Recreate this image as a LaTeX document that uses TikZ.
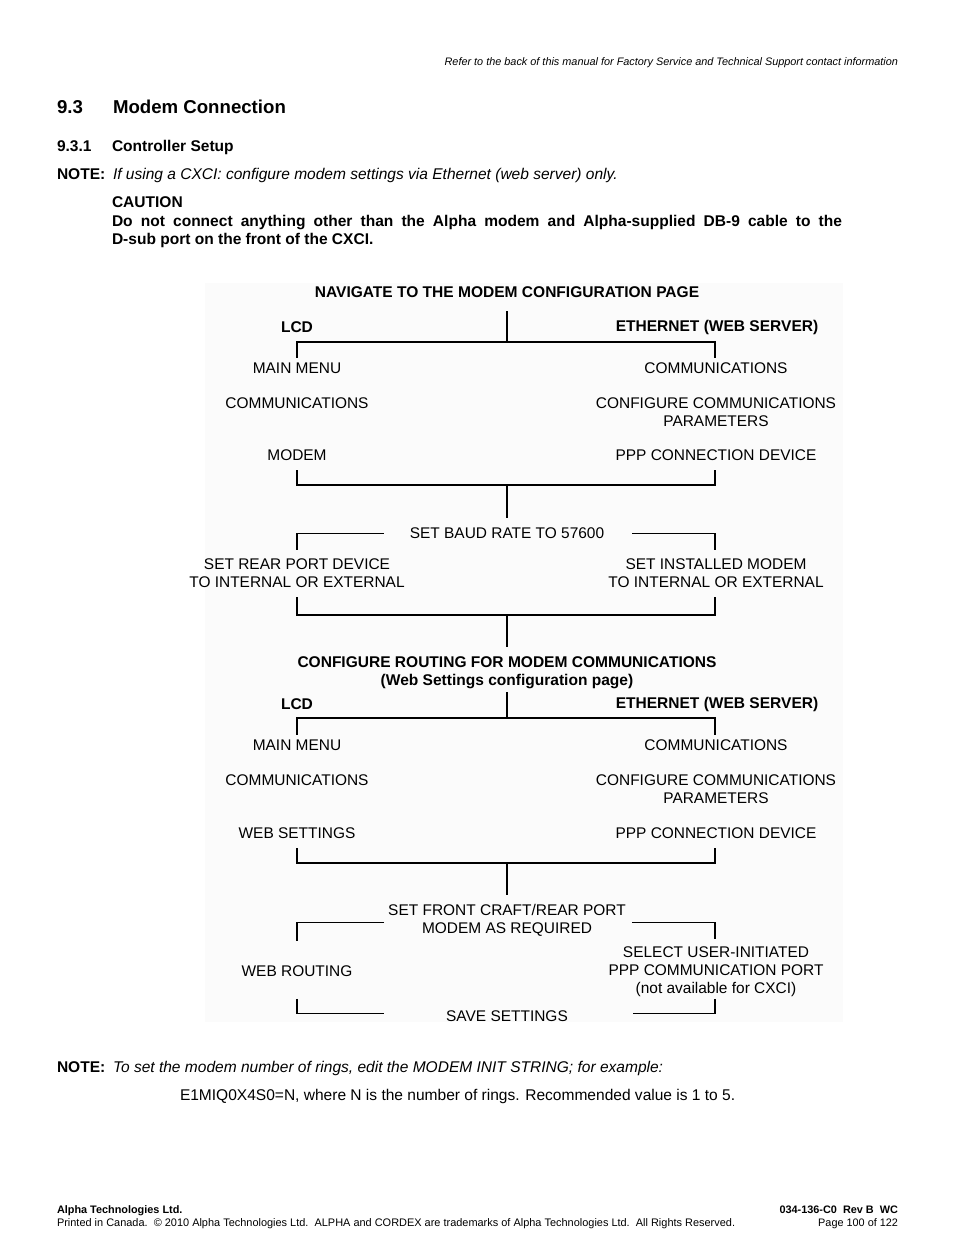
\documentclass[tikz,border=0pt]{standalone}
\usepackage{fontspec}
\setmainfont{Liberation Sans}
\usetikzlibrary{calc}

\definecolor{panelgray}{gray}{0.984}

\tikzset{
  every node/.style={inner sep=0pt, outer sep=0pt},
  bodyline/.style={anchor=base west, font=\fontsize{10}{12}\selectfont},
  boldline/.style={anchor=base west, font=\bfseries\fontsize{10}{12}\selectfont},
  flowtitle/.style={font=\bfseries\fontsize{10}{11.5}\selectfont, align=center},
  stepbox/.style={font=\fontsize{9.95}{11.5}\selectfont, align=center},
  trunk/.style={line width=1.6pt},
  branch/.style={line width=0.9pt},
}

\begin{document}
\begin{tikzpicture}[x=0.64151bp, y=-0.64151bp]
\useasboundingbox (0,0) rectangle (954,1235);

% page head
\node[anchor=base east, font=\itshape\fontsize{7}{8}\selectfont] (refer) at (898,65.8)
  {Refer to the back of this manual for Factory Service and Technical Support contact information};
\node[boldline, font=\bfseries\fontsize{12}{14}\selectfont] (secnum) at (57,113.7) {9.3};
\node[boldline, font=\bfseries\fontsize{12}{14}\selectfont] (sectitle) at (113,113.7) {Modem Connection};
\node[boldline] (subnum) at (57,151.6) {9.3.1};
\node[boldline] (subtitle) at (112,151.6) {Controller Setup};
\node[boldline] (note1) at (57,179.6) {NOTE:};
\node[bodyline, font=\itshape\fontsize{10}{12}\selectfont] (note1text) at (113,179.6)
  {If using a CXCI: configure modem settings via Ethernet (web server) only.};
\node[boldline] (caution) at (112,207.6) {CAUTION};
\node[boldline] (cautionA) at (112,226.6)
  {\makebox[468.3bp][s]{Do not connect anything other than the Alpha modem and Alpha-supplied DB-9 cable to the}};
\node[boldline] (cautionB) at (112,244.6) {D-sub port on the front of the CXCI.};

% flow chart panel
\fill[panelgray] (205,283) rectangle (843,1022);

% --- navigate block
\node[flowtitle] (navigate) at (507,292.5) {NAVIGATE TO THE MODEM CONFIGURATION PAGE};
\node[flowtitle] (lcdA) at (297,327.5) {LCD};
\node[flowtitle] (ethA) at (717,327.5) {ETHERNET (WEB SERVER)};
\node[stepbox] (mainmenuA) at (297,368.5) {MAIN MENU};
\node[stepbox] (commsA) at (297,403.5) {COMMUNICATIONS};
\node[stepbox] (modem) at (297,455.5) {MODEM};
\node[stepbox] (webcommsA) at (716,368.5) {COMMUNICATIONS};
\node[stepbox] (configA) at (716,412) {CONFIGURE COMMUNICATIONS\\PARAMETERS};
\node[stepbox] (pppA) at (716,455.5) {PPP CONNECTION DEVICE};
\node[stepbox] (baud) at (507,533.5) {SET BAUD RATE TO 57600};
\node[stepbox] (rearport) at (297,573.5) {SET REAR PORT DEVICE\\TO INTERNAL OR EXTERNAL};
\node[stepbox] (instmodem) at (716,573.5) {SET INSTALLED MODEM\\TO INTERNAL OR EXTERNAL};

\coordinate (stemA) at (507,311);
\coordinate (splitA) at (507,342);
\coordinate (joinA) at (507,485);
\coordinate (joinB) at (507,615);

\draw[trunk] (stemA) -- (splitA);
\draw[branch] ($(mainmenuA.north)+(0,-5.5)$) |- (splitA) -| ($(webcommsA.north)+(-1,-5.5)$);
\draw[branch] ($(modem.south)+(0,9.5)$) |- (joinA) -| ($(pppA.south)+(-1,9.5)$);
\draw[trunk] (joinA) -- ($(baud.north)+(0,-10.5)$);
\draw[branch] ($(baud.west)+(-26,0)$) -| ($(rearport.north)+(0,-9.5)$);
\draw[branch] ($(baud.east)+(28,0)$) -| ($(instmodem.north)+(-1,-9.5)$);
\draw[branch] ($(rearport.south)+(0,9.5)$) |- (joinB) -| ($(instmodem.south)+(-1,9.5)$);

% --- routing block
\node[flowtitle] (routing) at (507,673)
  {CONFIGURE ROUTING FOR MODEM COMMUNICATIONS\\(Web Settings configuration page)};
\node[flowtitle] (lcdB) at (297,704.5) {LCD};
\node[flowtitle] (ethB) at (717,704.5) {ETHERNET (WEB SERVER)};
\node[stepbox] (mainmenuB) at (297,745.5) {MAIN MENU};
\node[stepbox] (commsB) at (297,780.5) {COMMUNICATIONS};
\node[stepbox] (websettings) at (297,833.5) {WEB SETTINGS};
\node[stepbox] (webcommsB) at (716,745.5) {COMMUNICATIONS};
\node[stepbox] (configB) at (716,789) {CONFIGURE COMMUNICATIONS\\PARAMETERS};
\node[stepbox] (pppB) at (716,833.5) {PPP CONNECTION DEVICE};
\node[stepbox] (frontcraft) at (507,920.5) {SET FRONT CRAFT/REAR PORT\\MODEM AS REQUIRED};
\node[stepbox] (webrouting) at (297,971.5) {WEB ROUTING};
\node[stepbox] (selectport) at (716,972)
  {SELECT USER-INITIATED\\PPP COMMUNICATION PORT\\(not available for CXCI)};
\node[stepbox] (savesettings) at (507,1016.5) {SAVE SETTINGS};

\coordinate (splitB) at (507,718);
\coordinate (joinC) at (507,863);

\draw[trunk] (joinB) -- ($(routing.north)+(0,-10)$);
\draw[trunk] ($(routing.south)+(0,3)$) -- (splitB);
\draw[branch] ($(mainmenuB.north)+(0,-5.5)$) |- (splitB) -| ($(webcommsB.north)+(-1,-5.5)$);
\draw[branch] ($(websettings.south)+(0,9.5)$) |- (joinC) -| ($(pppB.south)+(-1,9.5)$);
\draw[trunk] (joinC) -- ($(frontcraft.north)+(0,-10)$);
\draw[branch] ($(frontcraft.west)+(-4,2)$) -| ($(webrouting.north)+(0,-25)$);
\draw[branch] ($(frontcraft.east)+(6,2)$) -| ($(selectport.north)+(-1,-8)$);
\draw[branch] ($(webrouting.south)+(0,22)$) |- ($(savesettings.west)+(-62,-3)$);
\draw[branch] ($(selectport.south)+(-1,2)$) |- ($(savesettings.east)+(65,-3)$);

% page foot
\node[boldline] (note2) at (57,1072.6) {NOTE:};
\node[bodyline, font=\itshape\fontsize{10}{12}\selectfont] (note2text) at (113,1072.6)
  {To set the modem number of rings, edit the MODEM INIT STRING; for example:};
\node[bodyline] (initstring) at (180,1100.6)
  {E1MIQ0X4S0=N, where N is the number of rings. Recommended value is 1 to 5.};
\node[boldline, font=\bfseries\fontsize{7}{8}\selectfont] (company) at (57,1213) {Alpha Technologies Ltd.};
\node[bodyline, font=\fontsize{7.05}{8}\selectfont] (printed) at (57,1226)
  {Printed in Canada.\ \ \copyright\ 2010 Alpha Technologies Ltd.\ \ ALPHA and CORDEX are trademarks of Alpha Technologies Ltd.\ \ All Rights Reserved.};
\node[anchor=base east, font=\bfseries\fontsize{7}{8}\selectfont] (docnum) at (898,1213) {034-136-C0\ \ Rev B\ \ WC};
\node[anchor=base east, font=\fontsize{7}{8}\selectfont] (pagenum) at (898,1226) {Page 100 of 122};

\end{tikzpicture}
\end{document}
